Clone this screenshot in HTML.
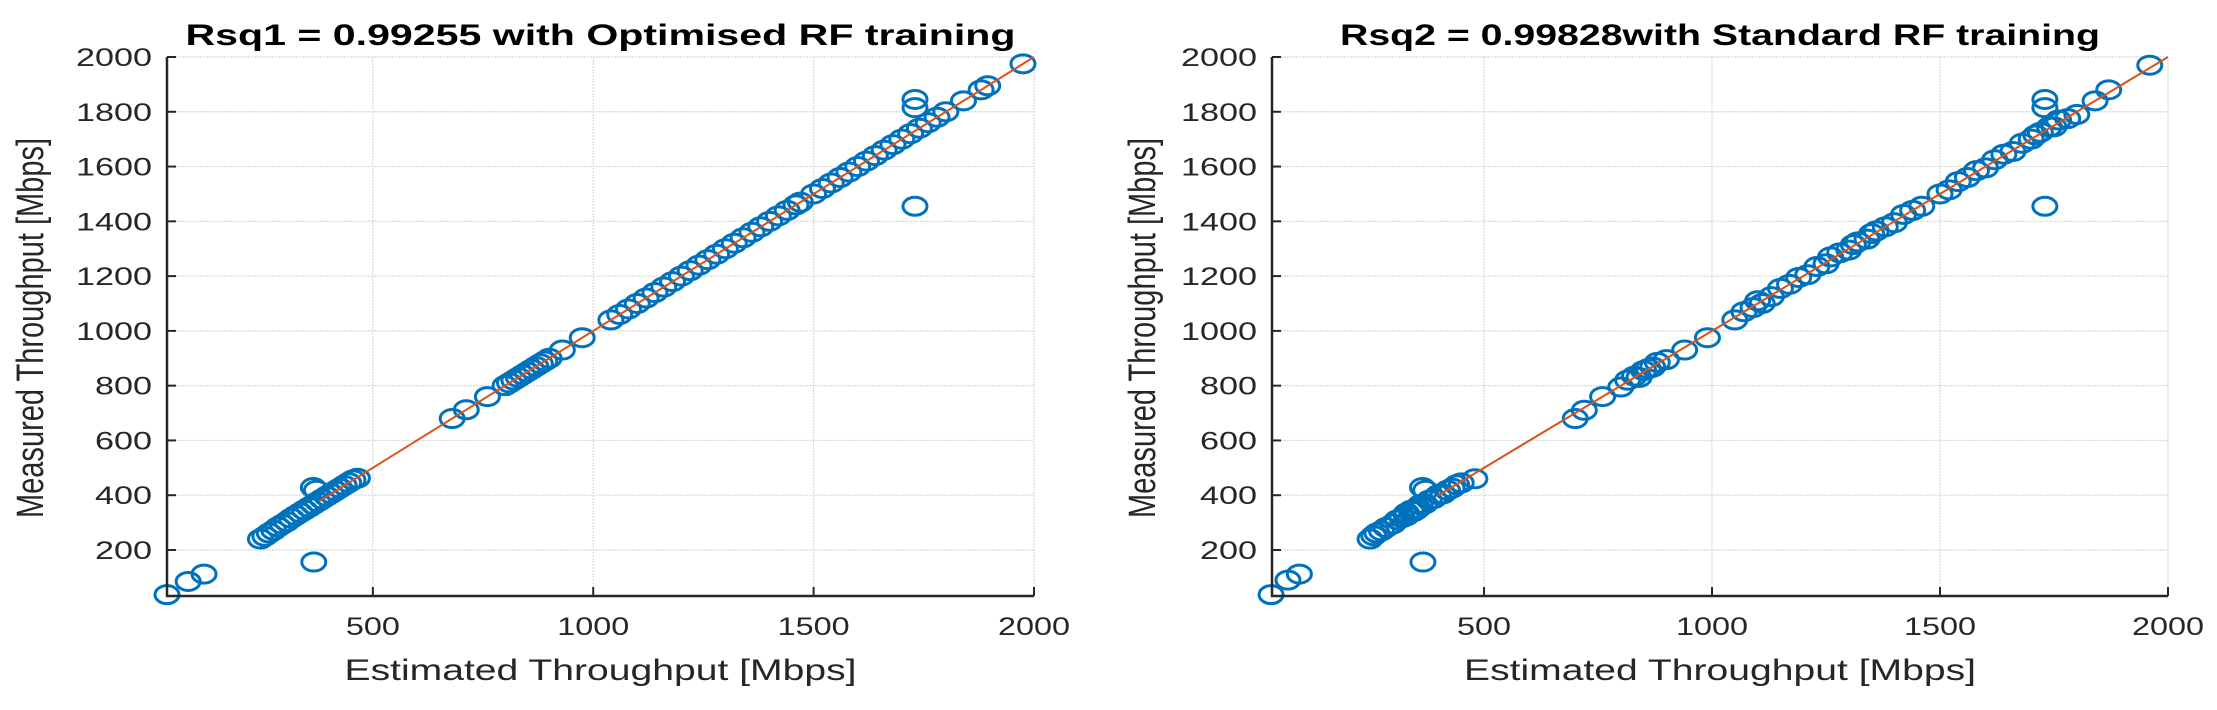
<!DOCTYPE html>
<html><head><meta charset="utf-8"><style>
html,body{margin:0;padding:0;background:#fff;}
svg{display:block;font-family:"Liberation Sans",Arial,sans-serif;}
</style></head><body>
<svg id="chart" width="2217" height="710" viewBox="0 0 2217 710"></svg>
<script>
const yTicks=[200,400,600,800,1000,1200,1400,1600,1800,2000];
const xTicks=[500,1000,1500,2000];
const titles=["Rsq1 = 0.99255 with Optimised RF training","Rsq2 = 0.99828with Standard RF training"];
const estLeft=[33,81,117,366,245,255,265,275,285,295,305,315,325,335,345,355,365,375,385,395,405,415,425,435,445,455,465,365,372,680,712,760,800,810,820,830,840,850,860,870,880,890,900,930,975,1040,1060,1080,1100,1120,1140,1160,1180,1200,1220,1240,1260,1280,1300,1320,1340,1360,1380,1400,1420,1440,1460,1470,1500,1520,1540,1560,1580,1600,1620,1640,1660,1680,1700,1720,1740,1760,1780,1800,1730,1730,1730,1840,1880,1895,1975];
const measLeft=[37,85,112,156,240,250,262,272,284,294,304,316,326,336,346,356,366,376,386,396,406,416,426,436,446,456,462,428,418,680,712,760,800,810,820,830,840,850,860,870,880,890,900,930,975,1040,1060,1080,1100,1120,1140,1160,1180,1200,1220,1240,1260,1280,1300,1320,1340,1360,1380,1400,1420,1440,1460,1470,1500,1520,1540,1560,1580,1600,1620,1640,1660,1680,1700,1720,1740,1760,1780,1800,1845,1815,1455,1840,1880,1895,1975];
const estRight=[33,70,95,366,250,258,265,275,285,300,310,320,330,340,345,355,360,370,380,390,400,410,420,430,440,450,480,365,372,330,350,700,720,760,800,815,830,840,850,860,870,880,900,940,990,1050,1070,1090,1100,1110,1130,1150,1170,1190,1210,1230,1250,1260,1280,1300,1310,1320,1340,1350,1360,1380,1400,1420,1440,1460,1500,1520,1540,1560,1580,1600,1620,1640,1660,1680,1700,1710,1720,1740,1750,1760,1780,1800,1730,1730,1730,1840,1870,1960];
const measRight=[37,90,112,156,240,252,262,270,282,295,310,318,325,345,340,352,365,368,382,388,402,405,418,426,438,445,460,428,418,335,345,680,710,760,795,820,835,830,855,862,868,885,895,930,975,1040,1070,1085,1110,1100,1125,1155,1170,1195,1205,1235,1245,1270,1285,1295,1315,1325,1335,1355,1365,1380,1395,1425,1440,1455,1500,1515,1545,1560,1585,1595,1625,1645,1655,1685,1700,1715,1725,1745,1745,1770,1775,1790,1845,1815,1455,1840,1880,1970];
const NS="http://www.w3.org/2000/svg";
const svg=document.getElementById('chart');
function mk(tag,attrs,parent){const e=document.createElementNS(NS,tag);for(const k in attrs)e.setAttribute(k,attrs[k]);(parent||svg).appendChild(e);return e;}
const panels=[
 {x0:167,x1:1034,xmin:33,ylab:43,est:estLeft,meas:measLeft,fit0:380,tlen:830,name:'left'},
 {x0:1272,x1:2168,xmin:35,ylab:1155,est:estRight,meas:measRight,fit0:400,tlen:760,name:'right'}];
const yTop=57,yBot=596,ymin=32,ymax=2000;
panels.forEach((p,i)=>{
 const g=mk('g',{});
 
 
 const sx=v=>p.x0+(v-p.xmin)/(2000-p.xmin)*(p.x1-p.x0);
 const sy=v=>yBot-(v-ymin)/(ymax-ymin)*(yBot-yTop);
 yTicks.forEach(t=>{const l=mk('line',{x1:p.x0,x2:p.x1,y1:sy(t),y2:sy(t),stroke:'#d8d8d8','stroke-width':1.2,'stroke-dasharray':'2,1'},g);
  });
 xTicks.forEach(t=>{const l=mk('line',{x1:sx(t),x2:sx(t),y1:yTop,y2:yBot,stroke:'#d8d8d8','stroke-width':1.2,'stroke-dasharray':'2,1'},g);
  });
 for(let k=0;k<p.est.length;k++){
  const c=mk('ellipse',{cx:sx(p.est[k]),cy:sy(p.meas[k]),rx:12,ry:9,fill:'none',stroke:'#0072bd','stroke-width':3},g);
  }
 const f=mk('line',{x1:sx(p.fit0),y1:sy(p.fit0),x2:sx(2000),y2:sy(2000),stroke:'#d95319','stroke-width':2},g);
 
 const ax=mk('path',{d:`M${p.x0},${yTop} V${yBot} H${p.x1}`,fill:'none',stroke:'#262626','stroke-width':2.5},g);
 
 yTicks.forEach(t=>{mk('line',{x1:p.x0,x2:p.x0+9,y1:sy(t),y2:sy(t),stroke:'#262626','stroke-width':2},g);
  const s=String(t);
  const tx=mk('text',{x:p.x0-15,y:sy(t)+9,'text-anchor':'end','font-size':25,fill:'#262626',textLength:s.length*19,lengthAdjust:'spacingAndGlyphs'},g);tx.textContent=s;
  });
 xTicks.forEach(t=>{mk('line',{x1:sx(t),x2:sx(t),y1:yBot,y2:yBot-9,stroke:'#262626','stroke-width':2},g);
  const s=String(t);
  const tx=mk('text',{x:sx(t),y:635,'text-anchor':'middle','font-size':25,fill:'#262626',textLength:s.length*18,lengthAdjust:'spacingAndGlyphs'},g);tx.textContent=s;
  });
 const cx=(p.x0+p.x1)/2;
 const tt=mk('text',{x:cx,y:45,'text-anchor':'middle','font-size':30,'font-weight':'bold',fill:'#000',textLength:p.tlen,lengthAdjust:'spacingAndGlyphs'},g);tt.textContent=titles[i];
 
 const xl=mk('text',{x:cx,y:680,'text-anchor':'middle','font-size':30,fill:'#262626',textLength:512,lengthAdjust:'spacingAndGlyphs'},g);xl.textContent='Estimated Throughput [Mbps]';
 
 const yc=328;
 const yl=mk('text',{x:0,y:0,'text-anchor':'middle','font-size':28,fill:'#262626',textLength:380,lengthAdjust:'spacingAndGlyphs',transform:`translate(${p.ylab} ${yc}) scale(1.35 1) rotate(-90)`},g);yl.textContent='Measured Throughput [Mbps]';
 
});
</script>
</body></html>
